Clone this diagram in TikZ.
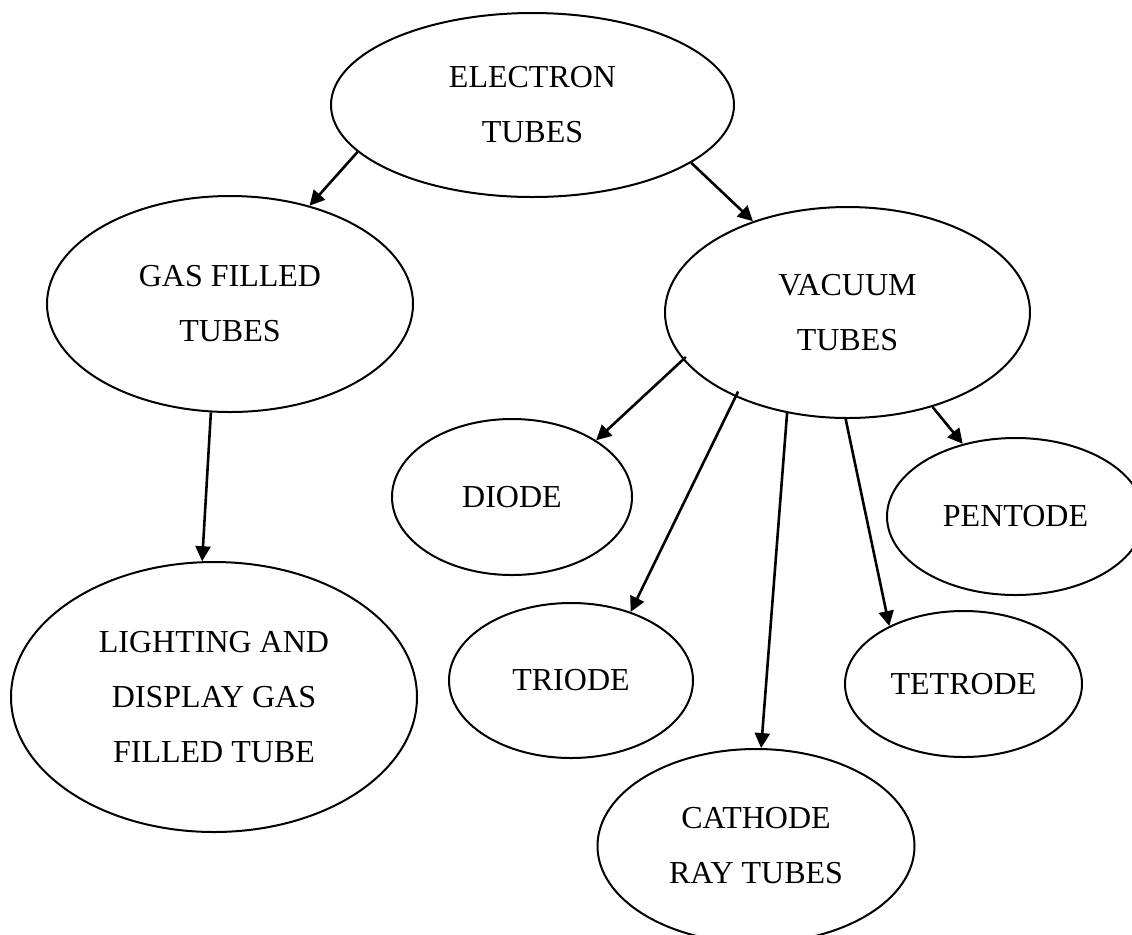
\documentclass[tikz,border=0pt]{standalone}
\usepackage{fontspec}
\setmainfont{Liberation Serif}
\usetikzlibrary{arrows.meta,shapes.geometric}
\tikzset{
  bubble/.style={draw=black, line width=1pt, ellipse, inner sep=0pt, align=center,
    font=\fontsize{16}{27.5}\selectfont},
  link/.style={line width=1.3pt, -{Triangle[length=7.5pt,width=7.5pt]}}
}
\begin{document}
\begin{tikzpicture}[x=0.5pt,y=-0.5pt]
\fill[white] (0,0) rectangle (1132,934);
\useasboundingbox (0,0) rectangle (1132,934);
\node[bubble, minimum width=201.5pt, minimum height=92pt] (elec) at (532.5,105) {ELECTRON\\TUBES};
\node[bubble, minimum width=183pt, minimum height=108pt] (gas) at (230,304) {GAS FILLED\\TUBES};
\node[bubble, minimum width=182.5pt, minimum height=105.5pt] (vac) at (847.5,312.5) {VACUUM\\TUBES};
\node[bubble, minimum width=120pt, minimum height=78pt] (diode) at (512,497) {DIODE};
\node[bubble, minimum width=122pt, minimum height=77.5pt] (triode) at (571,680.5) {TRIODE};
\node[bubble, minimum width=118.5pt, minimum height=73pt] (tetrode) at (963.5,684) {TETRODE};
\node[bubble, minimum width=128.5pt, minimum height=78.5pt] (pentode) at (1015.5,516.5) {PENTODE};
\node[bubble, minimum width=158.5pt, minimum height=97pt] (cathode) at (756,846) {CATHODE\\RAY TUBES};
\node[bubble, minimum width=203pt, minimum height=135pt] (light) at (214,697) {LIGHTING AND\\DISPLAY GAS\\FILLED TUBE};
\draw[link] (elec.195.1) -- (gas.51.8);
\draw[link] (elec.340.3) -- (vac.136.5);
\draw[link] (gas.260.1) -- (light.95.9);
\draw[link, shorten <=-2pt] (vac.196.1) -- (diode.34);
\draw[link, shorten <=-3pt] (vac.217.9) -- (triode.49.1);
\draw[link] (vac.239.4) -- (cathode.87.6);
\draw[link] (vac.269.2) -- (tetrode.142.8);
\draw[link] (vac.312.8) -- (pentode.126.4);
\end{tikzpicture}
\end{document}
